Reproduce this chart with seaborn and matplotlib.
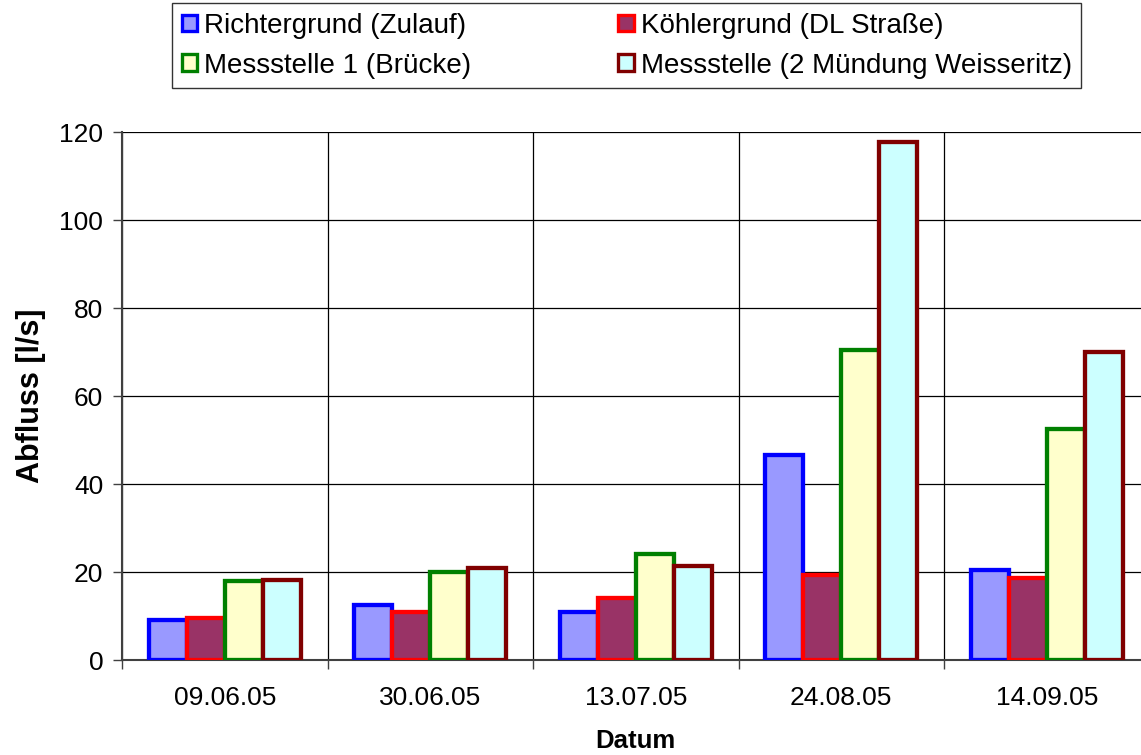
import matplotlib
matplotlib.use("Agg")
import matplotlib.pyplot as plt
from matplotlib.patches import Patch
from matplotlib.ticker import FixedLocator
import seaborn as sns
import pandas as pd

# Messdaten: Abfluss in l/s je Messtermin und Messstelle
dates = ["09.06.05", "30.06.05", "13.07.05", "24.08.05", "14.09.05"]
stations = [
    "Richtergrund (Zulauf)",
    "Köhlergrund (DL Straße)",
    "Messstelle 1 (Brücke)",
    "Messstelle (2 Mündung Weisseritz)",
]
richtergrund = [9.2, 12.4, 10.8, 46.5, 20.5]
koehlergrund = [9.5, 10.9, 14.2, 19.3, 18.7]
messstelle_1 = [18.0, 20.1, 24.2, 70.5, 52.5]
messstelle_2 = [18.2, 20.8, 21.3, 117.7, 70.0]

fill_colors = ["#9999FF", "#993366", "#FFFFCC", "#CCFFFF"]
edge_colors = ["#0000FF", "#FF0000", "#008000", "#800000"]

series = [richtergrund, koehlergrund, messstelle_1, messstelle_2]
df = pd.DataFrame(
    [(d, s, v) for s, vals in zip(stations, series) for d, v in zip(dates, vals)],
    columns=["Datum", "Messstelle", "Abfluss"],
)

sns.set_theme(style="white")
plt.rcParams["font.family"] = ["Liberation Sans", "DejaVu Sans"]
plt.rcParams["text.color"] = "black"
plt.rcParams["axes.labelcolor"] = "black"

W, H = 1141, 755
fig = plt.figure(figsize=(W / 100, H / 100), dpi=100)
ax = fig.add_axes([122 / W, 95 / H, 1027.5 / W, 528 / H])

sns.barplot(
    data=df, x="Datum", y="Abfluss", hue="Messstelle",
    order=dates, hue_order=stations, palette=fill_colors,
    width=0.74, gap=0, dodge=True, errorbar=None, legend=False,
    saturation=1, ax=ax, zorder=3,
)
for cont, ec in zip(ax.containers, edge_colors):
    for bar in cont:
        bar.set_edgecolor(ec)
        bar.set_linewidth(3.1)
        bar.set_zorder(3)

ax.set_xlim(-0.5, 4.5)
ax.set_ylim(0, 120)
ax.set_yticks(range(0, 121, 20))
ax.xaxis.set_minor_locator(FixedLocator([i - 0.5 for i in range(6)]))

ax.grid(False)
ax.yaxis.grid(True, color="#000000", linewidth=0.9, zorder=0)
ax.xaxis.grid(True, which="minor", color="#000000", linewidth=0.9, zorder=0)
ax.set_axisbelow(True)

for side in ("top", "right"):
    ax.spines[side].set_visible(False)
for side in ("left", "bottom"):
    ax.spines[side].set_color("#404040")
    ax.spines[side].set_linewidth(1.5)

ax.tick_params(axis="y", which="major", direction="out", length=6.5, width=1,
               color="#404040", pad=7, labelsize=19, labelcolor="black", left=True)
ax.tick_params(axis="x", which="major", length=0, pad=19, labelsize=19,
               labelcolor="black")
ax.tick_params(axis="x", which="minor", direction="out", length=6.5, width=1,
               color="#404040", bottom=True)

ax.set_xlabel("Datum", fontsize=18.5, fontweight="bold", color="black")
ax.set_ylabel("Abfluss [l/s]", fontsize=22, fontweight="bold", color="black")
ax.xaxis.set_label_coords(0.5, -0.13)
ax.yaxis.set_label_coords(-0.074, 0.5)

# legend filled row by row: two entries per row
order = [0, 2, 1, 3]
handles = [Patch(facecolor=fill_colors[i], edgecolor=edge_colors[i], linewidth=2.4)
           for i in order]
labels = [stations[i] for i in order]
leg = fig.legend(
    handles, labels, ncol=2,
    bbox_to_anchor=(172 / W, 1 - 3 / H),
    loc="upper left", fontsize=20, frameon=True, fancybox=False,
    handlelength=0.55, handleheight=0.55, handletextpad=0.25,
    borderpad=0.35, labelspacing=0.5, columnspacing=5.3, borderaxespad=0,
)
leg.get_frame().set_edgecolor("#000000")
leg.get_frame().set_linewidth(1.0)
for t in leg.get_texts():
    t.set_color("black")

fig.savefig("out.png", dpi=100)
